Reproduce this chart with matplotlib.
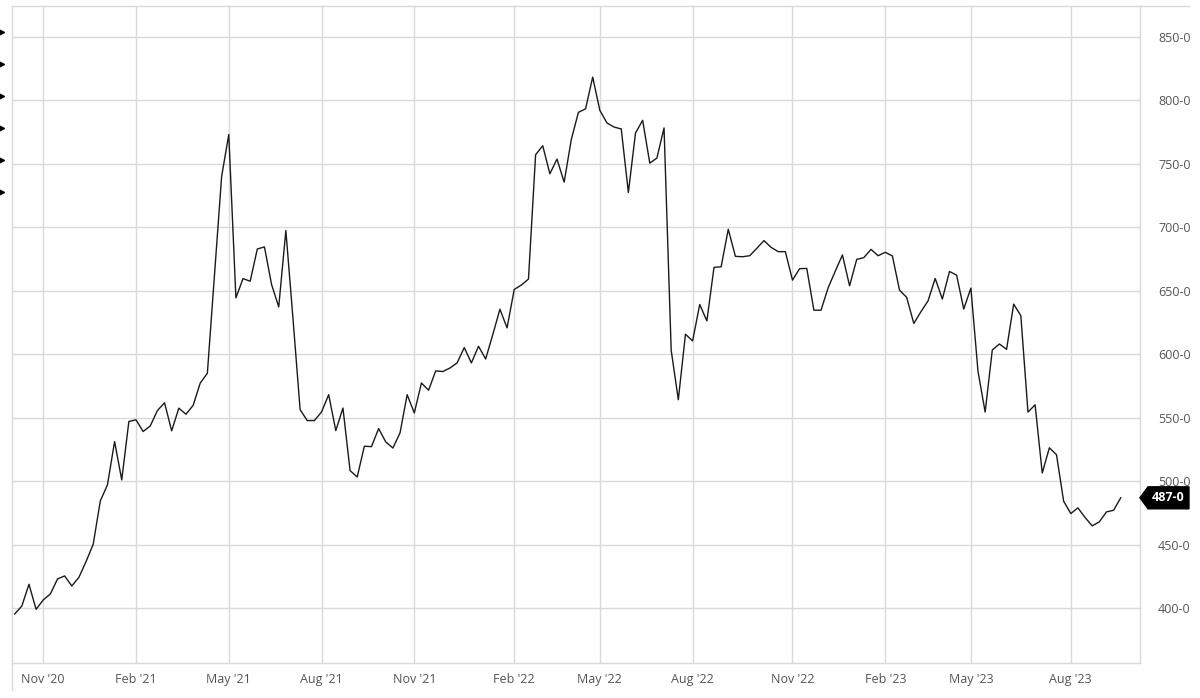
import matplotlib
matplotlib.use("Agg")
import matplotlib.pyplot as plt
from matplotlib.lines import Line2D
from matplotlib.patches import Polygon
import pandas as pd
import numpy as np

plt.rcParams['font.family'] = ['Open Sans', 'DejaVu Sans']

# weekly closes (first bar: week of 5 Oct 2020)
start_week = '2020-10-05'
price = [
    395.5, 401.8, 418.9, 399.2, 406.6, 411.3, 423.1, 425.5, 417.6, 424.4,
    436.8, 450.4, 484.6, 497.2, 531.3, 501.1, 547.1, 548.4, 539.2, 543.6,
    555.7, 561.8, 539.7, 557.6, 552.8, 559.7, 577.3, 585.1, 662.0, 740.0,
    773.0, 644.4, 659.6, 657.5, 682.9, 684.5, 654.9, 637.3, 697.4, 628.0,
    556.4, 547.8, 547.8, 554.6, 568.2, 539.9, 557.7, 508.4, 503.4, 527.6,
    527.3, 541.5, 531.0, 526.2, 538.1, 568.2, 553.8, 577.4, 571.7, 586.9,
    586.4, 589.2, 593.2, 605.3, 593.2, 606.3, 596.3, 615.5, 635.5, 620.8,
    651.0, 654.5, 659.2, 757.1, 764.2, 742.1, 753.7, 735.5, 769.0, 790.5,
    793.2, 818.2, 792.1, 782.1, 778.9, 777.4, 727.4, 774.2, 784.2, 750.5,
    754.5, 778.2, 603.2, 564.2, 615.8, 610.5, 639.2, 626.3, 668.4, 668.9,
    698.4, 677.1, 676.8, 677.6, 683.4, 689.5, 684.2, 680.8, 680.8, 658.4,
    667.4, 667.6, 634.7, 634.7, 652.4, 665.5, 678.2, 653.9, 674.7, 676.1,
    682.6, 677.6, 680.3, 677.4, 650.5, 644.8, 624.3, 633.5, 642.1, 659.7,
    643.5, 665.2, 662.3, 635.6, 652.1, 586.4, 554.5, 603.4, 608.1, 603.9,
    639.5, 630.4, 554.5, 560.2, 506.5, 526.4, 520.9, 484.3, 474.6, 479.1,
    471.5, 464.9, 468.1, 475.9, 477.2, 487.0,
]
last_label = '487-0'
tick_months = [2, 5, 8, 11]
y_ticks = [400, 450, 500, 550, 600, 650, 700, 750, 800, 850]

dates = pd.date_range(start_week, periods=len(price), freq='W-MON')
x = np.arange(len(price))

# x axis is bar-indexed: a tick on the first bar of each quarter month
first_of_month = np.r_[True, dates.month[1:] != dates.month[:-1]]
tick_idx = [i for i in x if first_of_month[i] and dates[i].month in tick_months and i > 0]
tick_lab = [dates[i].strftime("%b '%y") for i in tick_idx]

grid_col = '#d9d9d9'
fig = plt.figure(figsize=(12, 6.98), dpi=100)
ax = fig.add_axes([0.00975, 0.0497, 0.94025, 0.9417])

ax.plot(x, price, color='#1a1a1a', lw=1.0)

ax.set_xlim(-0.42, 157.7)
ax.set_ylim(356.7, 874.2)
ax.set_xticks(tick_idx)
ax.set_xticklabels(tick_lab)
ax.set_yticks(y_ticks)
ax.set_yticklabels([f'{v}-0' for v in y_ticks])
ax.yaxis.tick_right()
ax.tick_params(axis='both', length=0, labelsize=9, labelcolor='#555555')
ax.tick_params(axis='y', pad=13)
ax.tick_params(axis='x', pad=7)
ax.grid(True, color=grid_col, lw=1.0)
ax.set_axisbelow(True)
for s in ax.spines.values():
    s.set_color(grid_col)
    s.set_linewidth(1.0)

# last price badge
v = price[-1]
h = 8.66
badge = Polygon([(1.0, v), (1.0071, v + h), (1.0434, v + h), (1.0434, v - h), (1.0071, v - h)],
                closed=True, transform=ax.get_yaxis_transform(), clip_on=False,
                facecolor='black', edgecolor='black', zorder=5)
ax.add_patch(badge)
ax.text(1.0248, v, last_label, transform=ax.get_yaxis_transform(), ha='center', va='center',
        color='white', fontsize=9, fontweight='bold', zorder=6)

# frame bits that run past the plot area
fig.add_artist(Line2D([0.95, 0.991], [0.9914, 0.9914], color=grid_col, lw=1.0))
fig.add_artist(Line2D([0.00975, 0.00975], [0.0497, 0.0115], color=grid_col, lw=1.0))
ys = [32, 64, 96, 128, 160, 192]
fig.add_artist(Line2D([0.0008] * len(ys), [1 - y / 698 for y in ys], ls='none',
                      marker='>', ms=4, color='black'))

fig.savefig('out.png', dpi=100)
